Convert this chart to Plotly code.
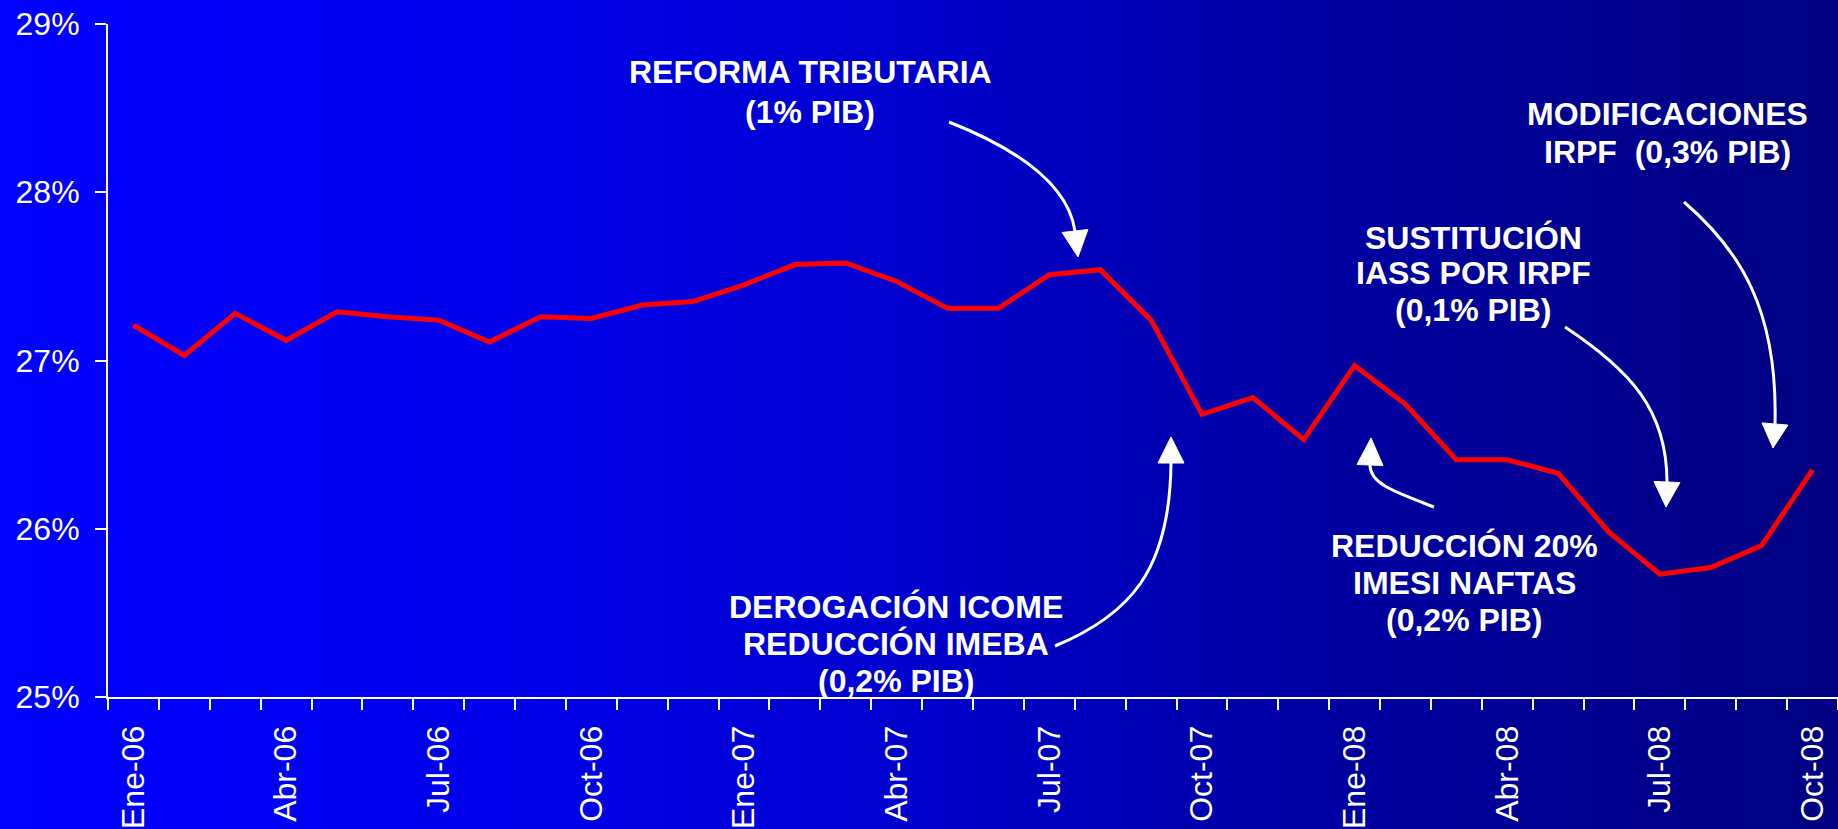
import base64
import struct
import zlib

import plotly.graph_objects as go

# ---------------- data ----------------
months = ["Ene", "Feb", "Mar", "Abr", "May", "Jun",
          "Jul", "Ago", "Sep", "Oct", "Nov", "Dic"]
years = ["06", "07", "08"]
categories = [f"{m}-{y}" for y in years for m in months][:34]   # Ene-06 .. Oct-08
labeled_months = ["Ene", "Abr", "Jul", "Oct"]
tick_labels = [c if c.split("-")[0] in labeled_months else "" for c in categories]

values = [27.21, 27.03, 27.28, 27.12, 27.29, 27.26, 27.24, 27.11, 27.26, 27.25,
          27.33, 27.35, 27.45, 27.57, 27.58, 27.47, 27.31, 27.31, 27.51, 27.54,
          27.24, 26.68, 26.78, 26.53, 26.97, 26.74, 26.41, 26.41, 26.33, 25.98,
          25.73, 25.77, 25.90, 26.35]

y_ticks = [25, 26, 27, 28, 29]

notes = [
    # (lines, center x px, [cap centre y px per line])
    (["REFORMA TRIBUTARIA", "(1% PIB)"], 810, [73, 113]),
    (["DEROGACIÓN ICOME", "REDUCCIÓN IMEBA", "(0,2% PIB)"], 896, [608, 645, 682]),
    (["SUSTITUCIÓN", "IASS POR IRPF", "(0,1% PIB)"], 1473, [239, 274, 311]),
    (["MODIFICACIONES", "IRPF  (0,3% PIB)"], 1667, [115, 153]),
    (["REDUCCIÓN 20%", "IMESI NAFTAS", "(0,2% PIB)"], 1464, [547, 584, 621]),
]

# curved arrows: cubic bezier (P0, P1, P2, P3=base of head) and tip, in px
arrows = [
    ((949, 122), (1020, 150), (1068, 185), (1075, 231), (1078, 257)),
    ((1055, 646), (1130, 615), (1170, 570), (1171, 463), (1171, 437)),
    ((1434, 507), (1395, 492), (1370, 484), (1370, 465), (1371, 438)),
    ((1565, 327), (1630, 370), (1667, 410), (1667, 482), (1666, 507)),
    ((1684, 202), (1740, 250), (1778, 310), (1775, 424), (1773, 448)),
]

# ---------------- layout geometry ----------------
W, H = 1838, 829
L, R, T, B = 108, 0, 24, 132
PW, PH = W - L - R, H - T - B


def px(x):
    return (x - L) / PW


def py(y):
    return (H - B - y) / PH


# ---------------- gradient background (PNG data URI) ----------------
grad_stops = [(0.0, 255), (0.3, 232), (0.5, 205), (0.7, 165), (1.0, 128)]


def blue_at(t):
    for (t0, b0), (t1, b1) in zip(grad_stops[:-1], grad_stops[1:]):
        if t0 <= t <= t1:
            return int(round(b0 + (b1 - b0) * (t - t0) / (t1 - t0)))
    return grad_stops[-1][1]


def gradient_png(width=512, height=4):
    row = b"".join(bytes((0, 0, blue_at(i / (width - 1)))) for i in range(width))
    raw = b"".join(b"\x00" + row for _ in range(height))

    def chunk(tag, data):
        return (struct.pack(">I", len(data)) + tag + data +
                struct.pack(">I", zlib.crc32(tag + data) & 0xFFFFFFFF))

    png = (b"\x89PNG\r\n\x1a\n" +
           chunk(b"IHDR", struct.pack(">IIBBBBB", width, height, 8, 2, 0, 0, 0)) +
           chunk(b"IDAT", zlib.compress(raw, 9)) +
           chunk(b"IEND", b""))
    return "data:image/png;base64," + base64.b64encode(png).decode()


FONT = "Liberation Sans, Arial, sans-serif"

fig = go.Figure()
fig.add_trace(go.Scatter(
    x=categories, y=values, mode="lines",
    line=dict(color="#FF0000", width=5),
    hoverinfo="skip", showlegend=False,
))

shapes = []
for p0, p1, p2, p3, tip in arrows:
    path = (f"M {px(p0[0])},{py(p0[1])} C {px(p1[0])},{py(p1[1])} "
            f"{px(p2[0])},{py(p2[1])} {px(p3[0])},{py(p3[1])}")
    shapes.append(dict(type="path", xref="paper", yref="paper", path=path,
                       line=dict(color="white", width=3), layer="above"))
    # arrow head triangle
    dx, dy = tip[0] - p3[0], tip[1] - p3[1]
    n = (dx * dx + dy * dy) ** 0.5
    ux, uy = dx / n, dy / n
    hw = 13
    b1 = (p3[0] - uy * hw, p3[1] + ux * hw)
    b2 = (p3[0] + uy * hw, p3[1] - ux * hw)
    tri = (f"M {px(tip[0])},{py(tip[1])} L {px(b1[0])},{py(b1[1])} "
           f"L {px(b2[0])},{py(b2[1])} Z")
    shapes.append(dict(type="path", xref="paper", yref="paper", path=tri,
                       line=dict(color="white", width=1), fillcolor="white",
                       layer="above"))

annotations = []
for lines, cx, ys in notes:
    for text, yy in zip(lines, ys):
        annotations.append(dict(
            text=f"<b>{text}</b>", x=px(cx), y=py(yy - 1), xref="paper", yref="paper",
            xanchor="center", yanchor="middle", showarrow=False,
            font=dict(family=FONT, size=32, color="white"),
        ))

fig.update_layout(
    width=W, height=H,
    margin=dict(l=L, r=R, t=T, b=B, pad=0),
    paper_bgcolor="rgba(0,0,0,0)",
    plot_bgcolor="rgba(0,0,0,0)",
    font=dict(family=FONT, size=32, color="white"),
    showlegend=False,
    shapes=shapes,
    annotations=annotations,
    images=[dict(source=gradient_png(), xref="paper", yref="paper",
                 x=-L / PW, y=1 + T / PH, sizex=W / PW, sizey=H / PH,
                 xanchor="left", yanchor="top", sizing="stretch", layer="below")],
    xaxis=dict(
        type="category", categoryorder="array", categoryarray=categories,
        range=[-0.5, len(categories) - 0.5],
        tickmode="array", tickvals=categories, ticktext=tick_labels,
        tickson="boundaries", ticks="outside", ticklen=11, tickwidth=2,
        tickcolor="white", tickangle=-90, ticklabelstandoff=14,
        showline=True, linecolor="white", linewidth=2,
        showgrid=False, zeroline=False,
        tickfont=dict(family=FONT, size=32, color="white"),
    ),
    yaxis=dict(
        range=[25, 29], tickmode="array", tickvals=y_ticks,
        ticktext=[f"{v}%" for v in y_ticks],
        ticks="outside", ticklen=11, tickwidth=2, tickcolor="white",
        ticklabelstandoff=9,
        showline=True, linecolor="white", linewidth=2,
        showgrid=False, zeroline=False,
        tickfont=dict(family=FONT, size=32, color="white"),
    ),
)

fig.write_html("out.html", config={"displayModeBar": False},
               post_script="document.body.style.margin='0';")
